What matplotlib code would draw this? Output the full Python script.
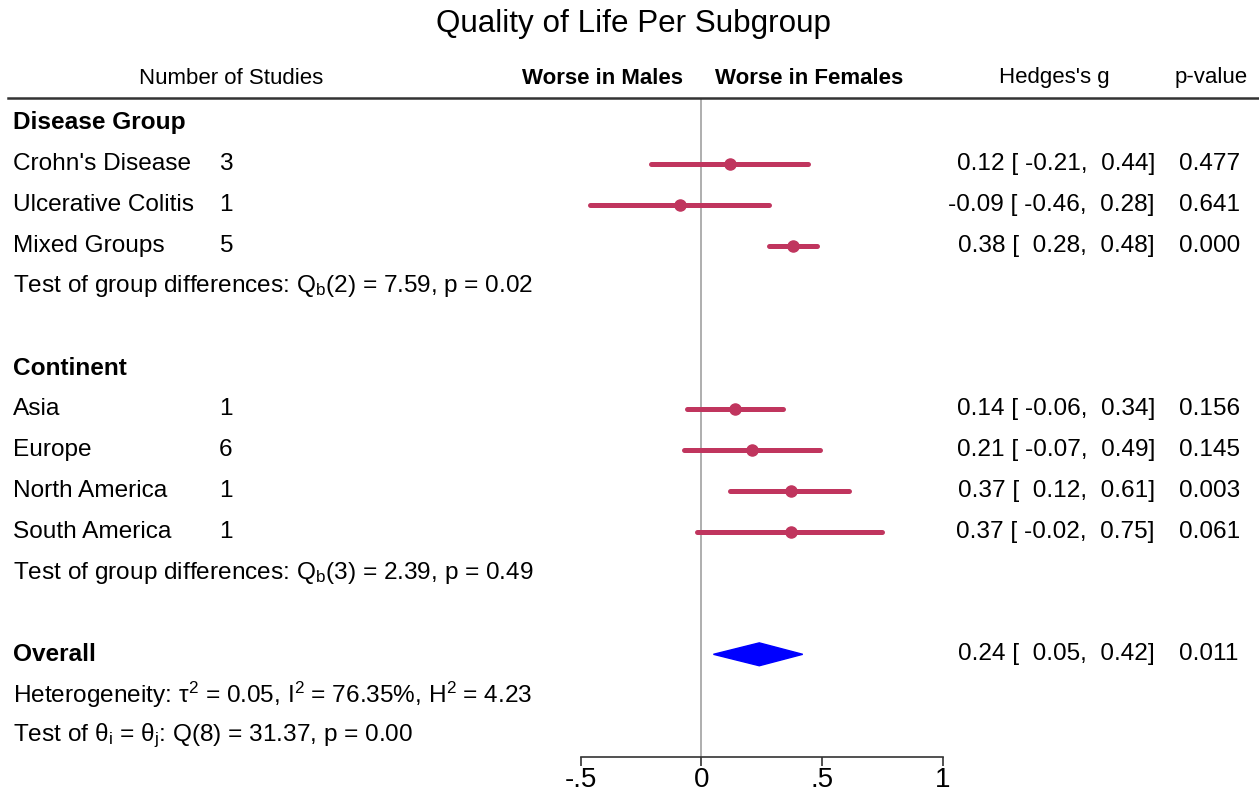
import matplotlib
matplotlib.use('Agg')
import matplotlib.pyplot as plt
from matplotlib.lines import Line2D
from matplotlib.transforms import blended_transform_factory

plt.rcParams['font.family'] = ['Liberation Sans', 'DejaVu Sans']
plt.rcParams['mathtext.fontset'] = 'custom'
plt.rcParams['mathtext.rm'] = 'Liberation Sans'
plt.rcParams['mathtext.it'] = 'Liberation Sans:italic'

# ---- data -------------------------------------------------------------
groups = ['Disease Group', 'Continent']
study_labels = [["Crohn's Disease", 'Ulcerative Colitis', 'Mixed Groups'],
                ['Asia', 'Europe', 'North America', 'South America']]
n_studies = [[3, 1, 5], [1, 6, 1, 1]]
g_est = [[0.12, -0.09, 0.38], [0.14, 0.21, 0.37, 0.37]]
g_lo = [[-0.21, -0.46, 0.28], [-0.06, -0.07, 0.12, -0.02]]
g_hi = [[0.44, 0.28, 0.48], [0.34, 0.49, 0.61, 0.75]]
p_vals = [['0.477', '0.641', '0.000'], ['0.156', '0.145', '0.003', '0.061']]
group_tests = [r'Test of group differences: Q$_\mathregular{b}$(2) = 7.59, p = 0.02',
               r'Test of group differences: Q$_\mathregular{b}$(3) = 2.39, p = 0.49']

overall_est, overall_lo, overall_hi = 0.24, 0.05, 0.42
overall_p = '0.011'
heterogeneity = r'Heterogeneity: τ$^\mathregular{2}$ = 0.05, I$^\mathregular{2}$ = 76.35%, H$^\mathregular{2}$ = 4.23'
theta_test = r'Test of θ$_\mathregular{i}$ = θ$_\mathregular{j}$: Q(8) = 31.37, p = 0.00'

xticks = [-0.5, 0, 0.5, 1]
xtick_labels = ['-.5', '0', '.5', '1']

# ---- layout -----------------------------------------------------------
W, H = 1259, 792
fig = plt.figure(figsize=(W / 100, H / 100), dpi=100)
row_px = 40.87
first_row_px = 123
top_px, axis_px = 98, 757
x0_px, x1_px = 580.7, 942.7

ax = fig.add_axes([x0_px / W, 1 - axis_px / H, (x1_px - x0_px) / W, (axis_px - top_px) / H])
ax.set_xlim(-0.5, 1)
ax.set_ylim((axis_px - first_row_px) / row_px, (top_px - first_row_px) / row_px)
for s in ['top', 'right', 'left']:
    ax.spines[s].set_visible(False)
ax.spines['bottom'].set_linewidth(1.2)
ax.spines['bottom'].set_color('#333333')
ax.set_yticks([])
ax.set_xticks(xticks)
ax.set_xticklabels(xtick_labels, fontsize=20)
ax.tick_params(axis='x', direction='out', length=6.5, width=1.2, color='#333333', pad=0.5)
ax.patch.set_alpha(0)
ax.axvline(0, color='#999999', lw=1.1, zorder=1)

trans = blended_transform_factory(fig.transFigure, ax.transData)
FS = 17.6
mark_col = '#C0355E'

def ftext(xpx, row, s, **kw):
    kw.setdefault('fontsize', FS)
    kw.setdefault('va', 'center')
    ax.text(xpx / W, row, s, transform=trans, clip_on=False, **kw)

row = 0
for gi, grp in enumerate(groups):
    ftext(13, row, grp, fontweight='bold')
    row += 1
    for lab, n, e, lo, hi, p in zip(study_labels[gi], n_studies[gi], g_est[gi],
                                    g_lo[gi], g_hi[gi], p_vals[gi]):
        ftext(13, row, lab)
        ftext(219, row, str(n))
        ax.plot([lo, hi], [row, row], color=mark_col, lw=3.6, solid_capstyle='round', zorder=3)
        ax.plot(e, row, 'o', color=mark_col, ms=8, zorder=4)
        ftext(1155, row, f'{e:.2f} [ {lo:5.2f},  {hi:.2f}]', ha='right')
        ftext(1179, row, p)
        row += 1
    ftext(13, row, group_tests[gi])
    row += 2

# overall
ftext(13, row, 'Overall', fontweight='bold')
h = 0.28
ax.fill([overall_lo, overall_est, overall_hi, overall_est],
        [row, row - h, row, row + h], color='#0000FF', zorder=3)
ftext(1155, row, f'{overall_est:.2f} [  {overall_lo:.2f},  {overall_hi:.2f}]', ha='right')
ftext(1179, row, overall_p)
ftext(13, row + 1, heterogeneity)
ftext(13, row + 2, theta_test)

# header
hy = 1 - 78 / H
fig.text(231 / W, hy, 'Number of Studies', ha='center', va='center', fontsize=16)
fig.text(683 / W, hy, 'Worse in Males', ha='right', va='center', fontsize=16, fontweight='bold')
fig.text(715 / W, hy, 'Worse in Females', ha='left', va='center', fontsize=16, fontweight='bold')
fig.text(1054 / W, hy, "Hedges's g", ha='center', va='center', fontsize=16)
fig.text(1211 / W, hy, 'p-value', ha='center', va='center', fontsize=16)
fig.add_artist(Line2D([8 / W, 1], [1 - top_px / H] * 2, color='#333333', lw=1.8))

fig.text(633 / W, 1 - 24 / H, 'Quality of Life Per Subgroup', ha='center', va='center', fontsize=22.6)

fig.savefig('out.png', dpi=100)
